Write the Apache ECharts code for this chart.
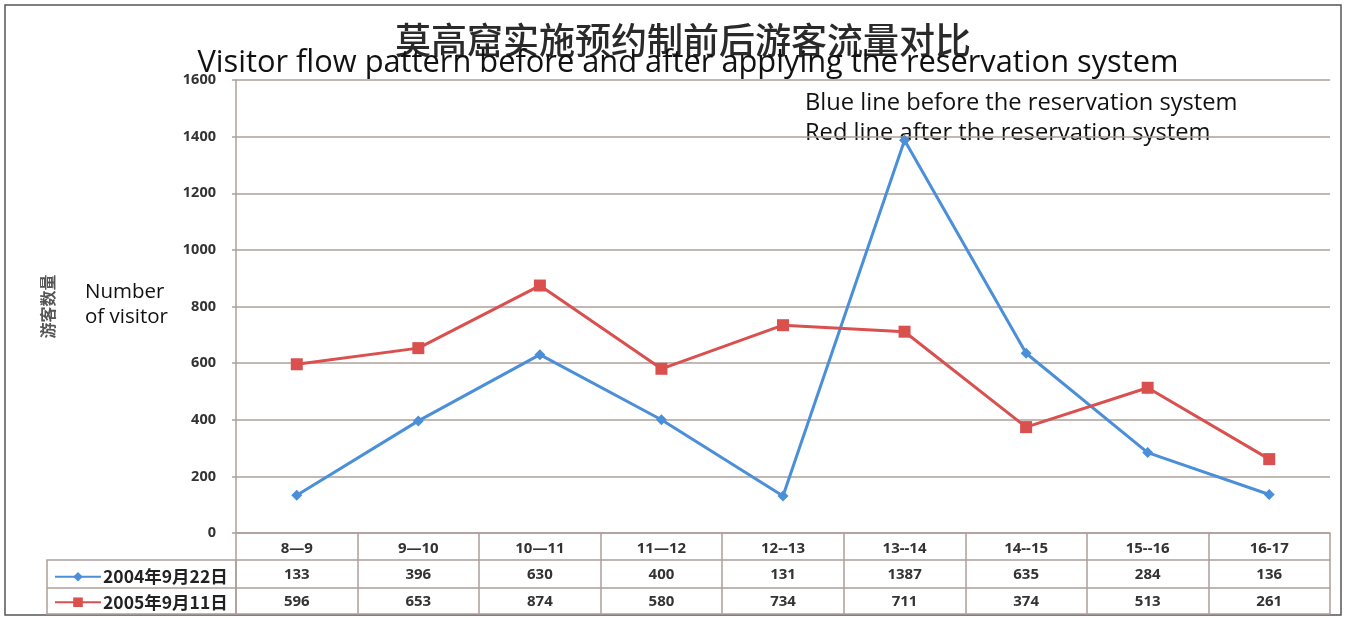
<!DOCTYPE html>
<html><head><meta charset="utf-8">
<script src="https://cdn.jsdelivr.net/npm/echarts@6/dist/echarts.min.js"></script>
<style>html,body{margin:0;padding:0;background:#fff}#c{width:1350px;height:618px}</style>
</head><body><div id="c"></div>
<script>
const categories = ['8—9','9—10','10—11','11—12','12--13','13--14','14--15','15--16','16-17'];
const seriesNames = ['2004年9月22日','2005年9月11日'];
const before2004 = [133,396,630,400,131,1387,635,284,136];
const after2005 = [596,653,874,580,734,711,374,513,261];
const yMin = 0, yMax = 1600, yInterval = 200;
const titleCN = '莫高窟实施预约制前后游客流量对比';
const titleEN = 'Visitor flow pattern before and after applying the reservation system';
const yNameCN = '游客数量';
const notes = ['Blue line before the reservation system','Red line after the reservation system'];
const yNameEN = ['Number','of visitor'];

const gridColor = '#ad9f9a';
const blue = '#4a8fd8', red = '#d9504f';
const tableFont = {fontSize:15, fontWeight:'bold', color:'#333', fontFamily:'Noto Sans'};

const chart = echarts.init(document.getElementById('c'));
chart.setOption({
  animation:false,
  backgroundColor:'#fff',
  title:[
    {text:titleCN, left:678, top:17, textAlign:'center',
     textStyle:{fontSize:36, fontWeight:500, color:'#2a2a2a', fontFamily:'Noto Sans CJK SC'}},
    {text:titleEN, left:683, top:43, textAlign:'center',
     textStyle:{fontSize:30.8, fontWeight:'normal', color:'#111', fontFamily:'Open Sans'}}
  ],
  grid:{left:236, right:20, top:80, bottom:85, containLabel:false},
  legend:{orient:'vertical', left:49, top:563, height:80, itemGap:8, itemWidth:46, itemHeight:12,
    data:seriesNames, textStyle:{fontSize:17.5, fontWeight:'bold', color:'#222', fontFamily:'Noto Sans CJK SC', padding:[0,0,0,-3]}},
  xAxis:[
    {type:'category', data:categories, boundaryGap:true,
     axisLine:{lineStyle:{color:gridColor, width:1.5}},
     axisTick:{show:true, length:81, alignWithLabel:false, interval:0, lineStyle:{color:gridColor, width:1.5}},
     axisLabel:Object.assign({interval:0, margin:8}, tableFont)},
    {type:'category', data:before2004.map(String), boundaryGap:true, position:'bottom', offset:27,
     axisLine:{lineStyle:{color:gridColor, width:1.5}}, axisTick:{show:false},
     axisLabel:Object.assign({interval:0, margin:7}, tableFont)},
    {type:'category', data:after2005.map(String), boundaryGap:true, position:'bottom', offset:55,
     axisLine:{lineStyle:{color:gridColor, width:1.5}}, axisTick:{show:false},
     axisLabel:Object.assign({interval:0, margin:6}, tableFont)},
    {type:'category', data:categories, boundaryGap:true, position:'bottom', offset:81,
     axisLine:{lineStyle:{color:gridColor, width:1.5}}, axisTick:{show:false}, axisLabel:{show:false}}
  ],
  yAxis:{type:'value', min:yMin, max:yMax, interval:yInterval,
    name:yNameCN, nameLocation:'middle', nameGap:180, nameRotate:90,
    nameTextStyle:{fontSize:16, fontWeight:'bold', color:'#555', fontFamily:'Noto Sans CJK SC'},
    axisLine:{show:true, lineStyle:{color:gridColor, width:1.5}},
    axisTick:{show:true, length:4, lineStyle:{color:gridColor, width:1.5}},
    splitLine:{lineStyle:{color:gridColor, width:1.5}},
    axisLabel:{margin:20, fontSize:14.5, fontWeight:'bold', color:'#333', fontFamily:'Noto Sans',
      formatter:function(v){return String(v);}}},
  series:[
    {type:'line', name:seriesNames[0], data:before2004, xAxisIndex:0, color:blue,
     lineStyle:{width:3}, symbol:'diamond', symbolSize:11, itemStyle:{color:blue}},
    {type:'line', name:seriesNames[1], data:after2005, xAxisIndex:0, color:red,
     lineStyle:{width:3}, symbol:'rect', symbolSize:12, itemStyle:{color:red}}
  ],
  graphic:[
    {type:'rect', silent:true, shape:{x:5,y:5,width:1336,height:610}, style:{fill:'none', stroke:'#555', lineWidth:1.5}},
    {type:'rect', silent:true, shape:{x:47,y:560,width:189,height:54}, style:{fill:'none', stroke:gridColor, lineWidth:1.5}},
    {type:'line', silent:true, shape:{x1:47,y1:588,x2:236,y2:588}, style:{stroke:gridColor, lineWidth:1.5}},
    {type:'text', left:805, top:91, style:{text:notes[0], font:'23.7px "Open Sans"', fill:'#111'}},
    {type:'text', left:805, top:121, style:{text:notes[1], font:'23.7px "Open Sans"', fill:'#111'}},
    {type:'text', left:85, top:282, style:{text:yNameEN[0], font:'20.5px "Open Sans"', fill:'#111'}},
    {type:'text', left:85, top:307, style:{text:yNameEN[1], font:'20.5px "Open Sans"', fill:'#111'}}
  ]
});
</script></body></html>
